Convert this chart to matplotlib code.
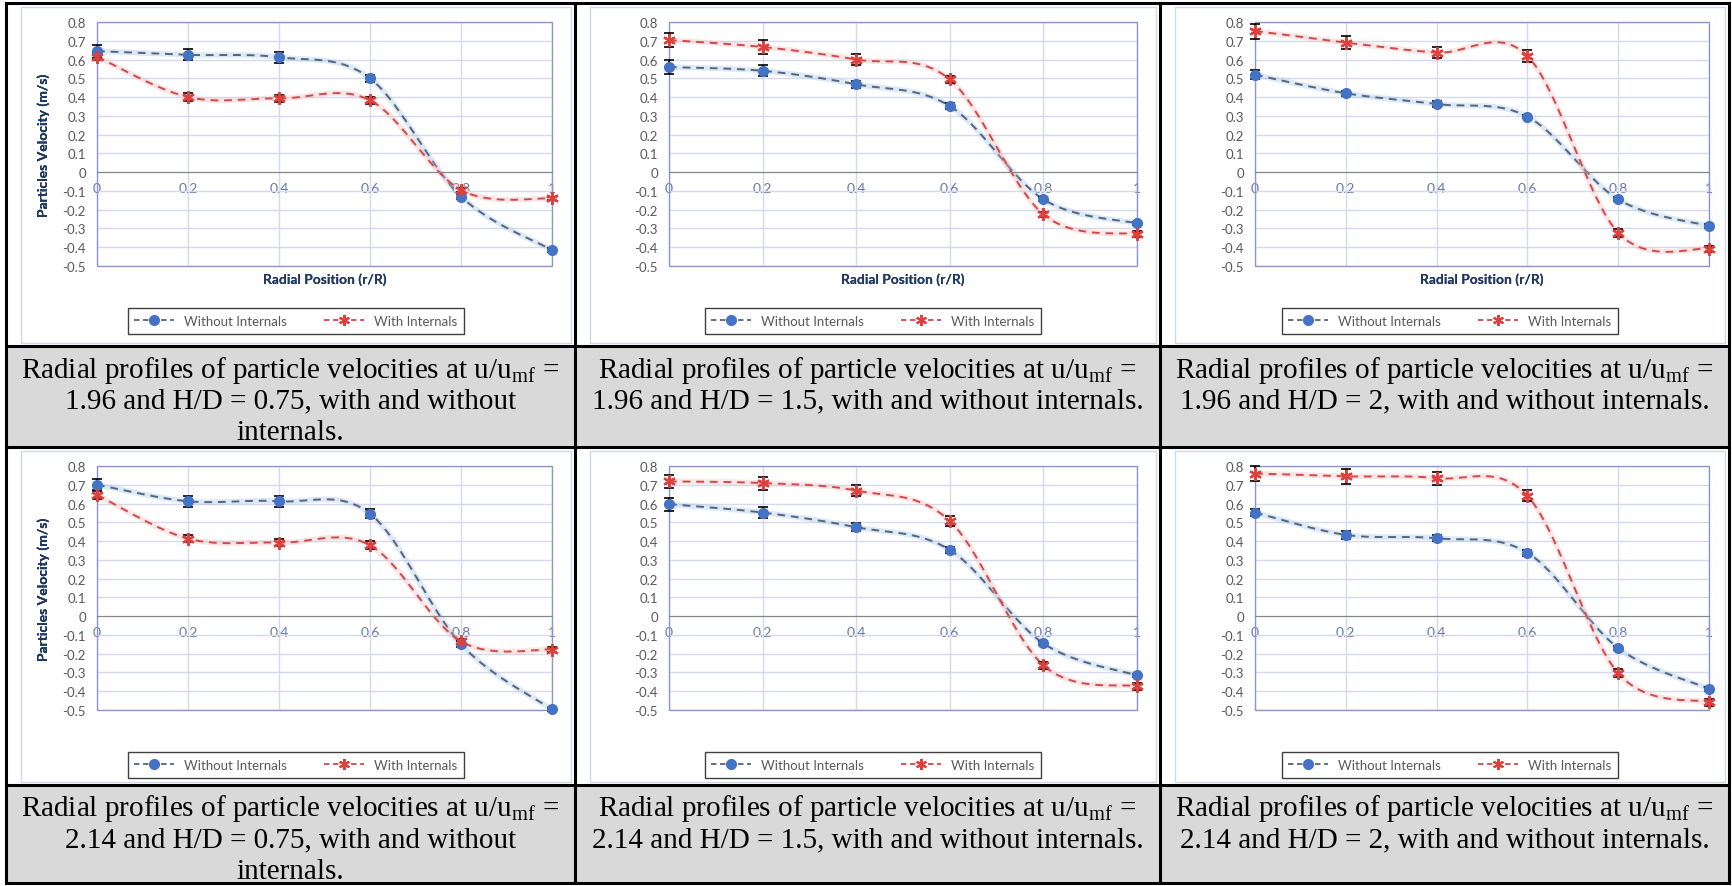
import numpy as np
import matplotlib.pyplot as plt
from matplotlib.lines import Line2D
from matplotlib.patches import Rectangle

plt.rcParams['mathtext.fontset'] = 'custom'
plt.rcParams['mathtext.rm'] = 'Liberation Serif'
plt.rcParams['font.family'] = 'Lato'

# radial positions (r/R)
r_pos = [0, 0.2, 0.4, 0.6, 0.8, 1.0]

# particle velocities (m/s), u/umf = 1.96
wo_196_075 = [0.645, 0.625, 0.612, 0.500, -0.130, -0.415]
w_196_075 = [0.615, 0.400, 0.393, 0.383, -0.095, -0.140]
wo_196_15 = [0.560, 0.540, 0.468, 0.352, -0.145, -0.273]
w_196_15 = [0.704, 0.667, 0.600, 0.494, -0.225, -0.331]
wo_196_2 = [0.519, 0.420, 0.363, 0.296, -0.145, -0.287]
w_196_2 = [0.752, 0.690, 0.637, 0.619, -0.323, -0.408]

# u/umf = 2.14
wo_214_075 = [0.700, 0.612, 0.612, 0.546, -0.150, -0.497]
w_214_075 = [0.646, 0.413, 0.392, 0.378, -0.135, -0.178]
wo_214_15 = [0.597, 0.552, 0.474, 0.353, -0.145, -0.316]
w_214_15 = [0.718, 0.709, 0.669, 0.507, -0.262, -0.374]
wo_214_2 = [0.552, 0.433, 0.415, 0.338, -0.170, -0.387]
w_214_2 = [0.760, 0.745, 0.735, 0.641, -0.304, -0.459]

# error bars
err_wo = [[0.035, 0.03, 0.03, 0.02, 0.015, 0.01],
          [0.035, 0.03, 0.02, 0.015, 0.01, 0.01],
          [0.025, 0.015, 0.015, 0.01, 0.01, 0.01],
          [0.03, 0.03, 0.03, 0.025, 0.015, 0.01],
          [0.035, 0.03, 0.02, 0.015, 0.01, 0.01],
          [0.02, 0.02, 0.015, 0.015, 0.01, 0.01]]
err_w = [[0.02, 0.02, 0.02, 0.02, 0.01, 0.01],
         [0.035, 0.035, 0.03, 0.02, 0.015, 0.015],
         [0.04, 0.035, 0.03, 0.03, 0.02, 0.015],
         [0.02, 0.02, 0.02, 0.02, 0.015, 0.015],
         [0.035, 0.035, 0.03, 0.025, 0.02, 0.02],
         [0.04, 0.04, 0.035, 0.03, 0.02, 0.02]]

u_ratio = ['1.96', '1.96', '1.96', '2.14', '2.14', '2.14']
h_d = ['0.75', '1.5', '2', '0.75', '1.5', '2']
without_series = [wo_196_075, wo_196_15, wo_196_2, wo_214_075, wo_214_15, wo_214_2]
with_series = [w_196_075, w_196_15, w_196_2, w_214_075, w_214_15, w_214_2]

W, H = 1732, 887
fig = plt.figure(figsize=(W / 100, H / 100), dpi=100)


def frac(x0, y0, x1, y1):
    return [x0 / W, 1 - y1 / H, (x1 - x0) / W, (y1 - y0) / H]


# excel style smoothed line (bezier through points)
def smooth(x, y, n=40):
    pts = np.column_stack([x, y]).astype(float)
    pts = np.vstack([pts[0], pts, pts[-1]])
    t = np.linspace(0, 1, n)[:, None]
    out = []
    for i in range(len(x) - 1):
        p0, p1, p2, p3 = pts[i], pts[i + 1], pts[i + 2], pts[i + 3]
        c1 = p1 + (p2 - p0) / 6
        c2 = p2 - (p3 - p1) / 6
        seg = (1 - t) ** 3 * p1 + 3 * (1 - t) ** 2 * t * c1 + 3 * (1 - t) * t ** 2 * c2 + t ** 3 * p2
        out.append(seg)
    out = np.vstack(out)
    return out[:, 0], out[:, 1]


col_edges = [6, 575, 1160, 1729]
row_edges = [4, 347, 448, 786, 884]
plot_x = [(97, 552), (669, 1137), (1255, 1709)]
plot_y = [(23, 267), (467, 711)]
legend_y = [322, 766]

blue = '#4472C4'
red = '#E0403C'
tick_fmt = lambda v: '0' if abs(v) < 1e-9 else ('%g' % round(v, 1))

for k in range(6):
    row, col = k // 3, k % 3
    x0, x1 = plot_x[col]
    y0, y1 = plot_y[row]
    # chart area
    ca = (col_edges[col] + 15, row_edges[2 * row] + 4, col_edges[col + 1] - 4, row_edges[2 * row + 1] - 3)
    fig.add_artist(Rectangle((ca[0] / W, 1 - ca[3] / H), (ca[2] - ca[0]) / W, (ca[3] - ca[1]) / H,
                             transform=fig.transFigure, fill=False, ec='#D0D7E5', lw=1))

    ax = fig.add_axes(frac(x0, y0, x1, y1))
    ax.set_xlim(0, 1)
    ax.set_ylim(-0.5, 0.8)
    ax.set_xticks(np.arange(0, 1.01, 0.2))
    ax.set_yticks(np.arange(-0.5, 0.81, 0.1))
    ax.set_xticklabels([tick_fmt(v) for v in np.arange(0, 1.01, 0.2)])
    ax.set_yticklabels([tick_fmt(v) for v in np.arange(-0.5, 0.81, 0.1)])
    ax.grid(color='#D6D9EE', lw=1)
    ax.set_axisbelow(True)
    for s in ['top', 'right', 'left']:
        ax.spines[s].set_visible(False)
    ax.spines['bottom'].set_position(('data', 0))
    ax.spines['bottom'].set_color('#868686')
    ax.add_patch(Rectangle((0, 0), 1, 1, transform=ax.transAxes, fill=False, ec='#8E96C8', lw=1, clip_on=False))
    ax.tick_params(axis='both', length=0)
    ax.tick_params(axis='y', pad=8, labelsize=9.5, labelcolor='#595959')
    ax.tick_params(axis='x', pad=7, labelsize=10, labelcolor='#6478A8')

    ax.set_ylabel('Particles Velocity (m/s)', fontsize=10, fontweight='bold', color='#203864')
    ax.yaxis.set_label_coords((50 - x0) / (x1 - x0), 0.5)
    ax.text(0.5, -(280 - y1) / (y1 - y0), 'Radial Position (r/R)', transform=ax.transAxes,
            ha='center', va='center', fontsize=10, fontweight='bold', color='#203864')

    # series
    sx, sy = smooth(r_pos, without_series[k])
    ax.plot(sx, sy, color='#9DC3E6', lw=4, alpha=0.35, clip_on=False)
    ax.plot(sx, sy, color='#56627E', lw=1.4, ls=(0, (4, 3)), clip_on=False)
    sx, sy = smooth(r_pos, with_series[k])
    ax.plot(sx, sy, color='#F4B6B6', lw=4, alpha=0.35, clip_on=False)
    ax.plot(sx, sy, color='#D0494A', lw=1.4, ls=(0, (4, 3)), clip_on=False)

    ax.errorbar(r_pos, without_series[k], yerr=err_wo[k], fmt='o', ms=7, color=blue,
                ecolor='black', elinewidth=1.2, capsize=3.5, capthick=1.2, clip_on=False, zorder=4)
    ax.errorbar(r_pos, with_series[k], yerr=err_w[k], fmt='none',
                ecolor='black', elinewidth=1.2, capsize=3.5, capthick=1.2, clip_on=False, zorder=4)
    ax.plot(r_pos, with_series[k], ls='none', marker=(6, 2, 0), ms=9, mew=1.6, color=red,
            clip_on=False, zorder=5)

    handles = [Line2D([], [], color='#56627E', ls=(0, (3, 2)), lw=1.3, marker='o', ms=7, mfc=blue, mec=blue),
               Line2D([], [], color='#D0494A', ls=(0, (3, 2)), lw=1.3, marker=(6, 2, 0), ms=8, mew=1.5, mec=red)]
    leg = ax.legend(handles, ['Without Internals', 'With Internals'], loc='center',
                    bbox_to_anchor=((ca[0] + ca[2]) / 2 / W, 1 - legend_y[row] / H),
                    bbox_transform=fig.transFigure, ncol=2, fancybox=False, framealpha=1,
                    edgecolor='#404040', fontsize=9.5, handlelength=3, columnspacing=2.8,
                    borderpad=0.5, labelcolor='#595959')
    leg.get_frame().set_linewidth(1)

    # caption
    cy0 = row_edges[2 * row + 1]
    cy1 = row_edges[2 * row + 2]
    fig.add_artist(Rectangle((col_edges[col] / W, 1 - cy1 / H), (col_edges[col + 1] - col_edges[col]) / W,
                             (cy1 - cy0) / H, transform=fig.transFigure, fc='#D9D9D9', ec='none', zorder=-1))
    first = 'Radial profiles of particle velocities at u/u$_{\\mathrm{mf}}$ ='
    if col == 0:
        lines = [first, '%s and H/D = %s, with and without' % (u_ratio[k], h_d[k]), 'internals.']
    else:
        lines = [first, '%s and H/D = %s, with and without internals.' % (u_ratio[k], h_d[k])]
    cx = (col_edges[col] + col_edges[col + 1]) / 2
    for i, line in enumerate(lines):
        fig.text(cx / W, 1 - (cy0 + 19 + 32 * i) / H, line, ha='center', va='center_baseline',
                 fontsize=21, family='Liberation Serif', color='black')

# table borders
for x in col_edges:
    fig.add_artist(Line2D([x / W, x / W], [1 - row_edges[0] / H, 1 - row_edges[-1] / H],
                          transform=fig.transFigure, color='black', lw=2.2, zorder=10))
for y in row_edges:
    fig.add_artist(Line2D([col_edges[0] / W, col_edges[-1] / W], [1 - y / H, 1 - y / H],
                          transform=fig.transFigure, color='black', lw=2.2, zorder=10))

fig.savefig('out.png', dpi=100)
